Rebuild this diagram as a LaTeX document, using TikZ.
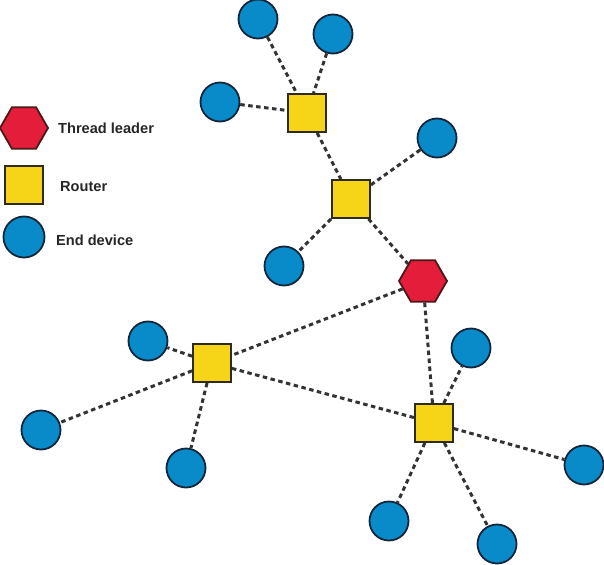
\documentclass[tikz,border=0pt]{standalone}
\usepackage{fontspec}
\setmainfont{Liberation Sans}
\usetikzlibrary{shapes.geometric,backgrounds}
\definecolor{devblue}{HTML}{0A8BC9}
\definecolor{devedge}{HTML}{14263A}
\definecolor{rtryellow}{HTML}{F6D418}
\definecolor{rtredge}{HTML}{2E2A20}
\definecolor{leadred}{HTML}{E31D3A}
\definecolor{leadedge}{HTML}{4A1818}
\definecolor{linkgray}{HTML}{333333}
\tikzset{
  dev/.style={circle, fill=devblue, draw=devedge, line width=1.8bp, minimum size=39bp, inner sep=0pt},
  rtr/.style={rectangle, fill=rtryellow, draw=rtredge, line width=1.8bp, minimum size=38bp, inner sep=0pt},
  leader/.style={regular polygon, regular polygon sides=6, fill=leadred, draw=leadedge, line width=1.8bp, minimum size=48bp, inner sep=0pt},
  link/.style={draw=linkgray, line width=3bp, dash pattern=on 4.5bp off 3.5bp},
  legtext/.style={anchor=west, inner sep=0pt, font=\fontsize{14.6bp}{16bp}\selectfont\bfseries, text=black!85}
}
\begin{document}
\begin{tikzpicture}[x=1bp,y=-1bp]
\useasboundingbox (0,0) rectangle (604,565);
% legend
\node[leader] (lgL) at (24,128) {};
\node[rtr] (lgR) at (24,185) {};
\node[dev, minimum size=41bp] (lgD) at (24,237) {};
\node[legtext] (lgLt) at (58,128) {Thread leader};
\node[legtext] (lgRt) at (60,187) {Router};
\node[legtext] (lgDt) at (56,240) {End device};
% routers and leader
\node[rtr] (r1) at (307,113) {};
\node[rtr] (r2) at (351,199) {};
\node[rtr] (r3) at (212,363) {};
\node[rtr] (r4) at (434,423) {};
\node[leader] (ld) at (423,281) {};
% end devices
\node[dev] (c1) at (258,19) {};
\node[dev] (c2) at (333,34) {};
\node[dev] (c3) at (220,102) {};
\node[dev] (c4) at (437,138) {};
\node[dev] (c5) at (284,266) {};
\node[dev] (c6) at (148,341) {};
\node[dev] (c7) at (471,348) {};
\node[dev] (c8) at (41,430) {};
\node[dev] (c9) at (186,468) {};
\node[dev] (c10) at (584,465) {};
\node[dev] (c11) at (389,521) {};
\node[dev] (c12) at (497,544) {};
% links
\begin{scope}[on background layer]
\draw[link] (c1) -- (r1);
\draw[link] (c2) -- (r1);
\draw[link] (c3) -- (r1);
\draw[link] (r1) -- (r2);
\draw[link] (r2) -- (c4);
\draw[link] (r2) -- (c5);
\draw[link] (r2) -- (ld);
\draw[link] (ld) -- (r3);
\draw[link] (ld) -- (r4);
\draw[link] (r3) -- (c6);
\draw[link] (r3) -- (c8);
\draw[link] (r3) -- (c9);
\draw[link] (r3) -- (r4);
\draw[link] (r4) -- (c7);
\draw[link] (r4) -- (c10);
\draw[link] (r4) -- (c11);
\draw[link] (r4) -- (c12);
\end{scope}
\end{tikzpicture}
\end{document}
